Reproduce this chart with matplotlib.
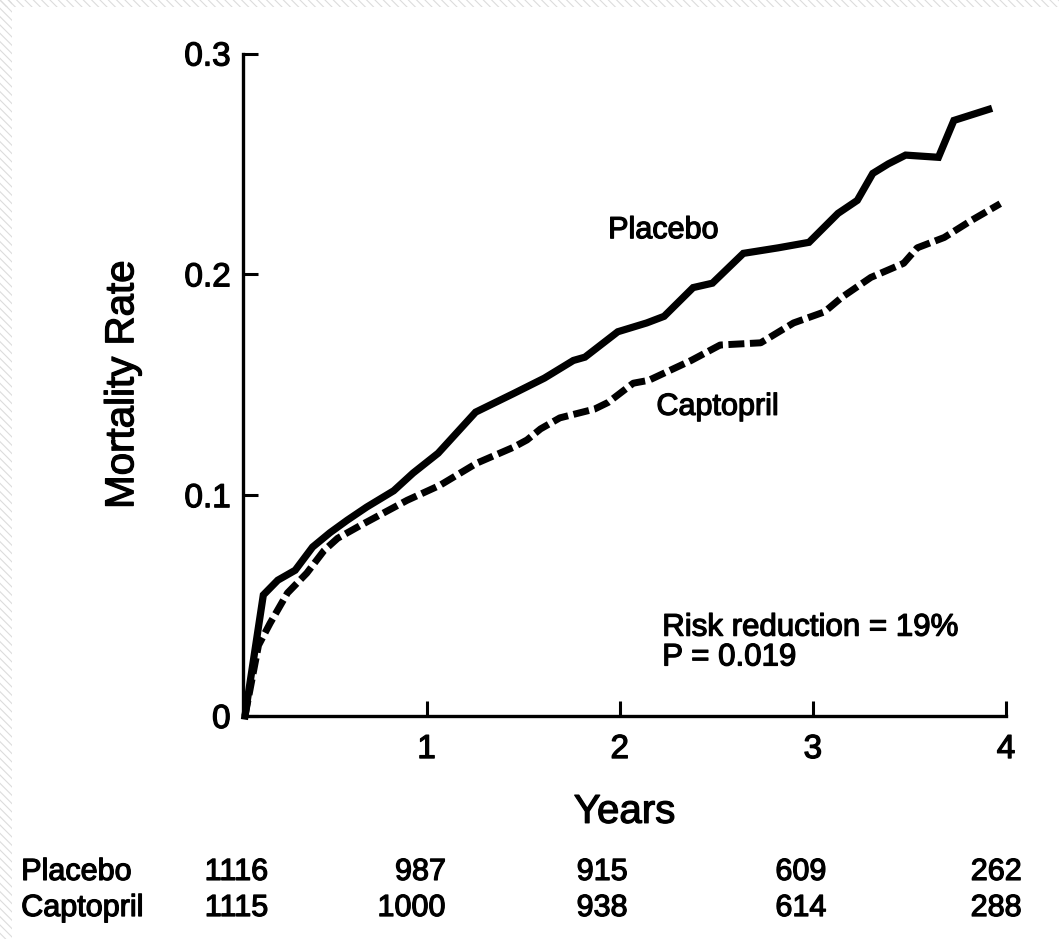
import matplotlib
matplotlib.use("Agg")
import matplotlib.pyplot as plt
import matplotlib.patheffects as pe
from matplotlib.patches import Rectangle
from matplotlib.text import Text
from matplotlib.transforms import blended_transform_factory

plt.rcParams['font.family'] = ['Liberation Sans', 'DejaVu Sans']
plt.rcParams['hatch.linewidth'] = 0.8

# cumulative mortality (years, rate)
placebo_t = [0.06, 0.155, 0.23, 0.32, 0.41, 0.50, 0.59, 0.69, 0.83, 0.93, 1.06,
             1.254, 1.45, 1.61, 1.76, 1.82, 1.99, 2.14, 2.23, 2.38, 2.48, 2.64,
             2.82, 2.98, 3.13, 3.23, 3.31, 3.39, 3.48, 3.65, 3.73, 3.91]
placebo_y = [0.0, 0.0548, 0.0615, 0.066, 0.0765, 0.083, 0.0887, 0.0946, 0.102,
             0.110, 0.119, 0.1376, 0.146, 0.153, 0.161, 0.1625, 0.174, 0.178,
             0.181, 0.194, 0.196, 0.2095, 0.212, 0.2145, 0.2276, 0.2335, 0.2457,
             0.250, 0.254, 0.253, 0.2697, 0.2747]

captopril_t = [0.06, 0.13, 0.19, 0.28, 0.38, 0.47, 0.54, 0.66, 0.80, 0.90, 1.07,
               1.26, 1.45, 1.52, 1.59, 1.69, 1.87, 1.94, 2.07, 2.15, 2.37, 2.52,
               2.73, 2.90, 3.06, 3.15, 3.30, 3.47, 3.54, 3.68, 3.82, 3.97]
captopril_y = [0.0, 0.032, 0.042, 0.0557, 0.0647, 0.075, 0.0805, 0.0864, 0.093,
               0.0977, 0.1045, 0.1145, 0.1217, 0.125, 0.130, 0.135, 0.139, 0.142,
               0.1507, 0.152, 0.161, 0.168, 0.169, 0.178, 0.183, 0.1896, 0.1986,
               0.205, 0.212, 0.2167, 0.2244, 0.232]

# patients at risk under the x axis
risk_years = [0, 1, 2, 3, 4]
placebo_n = [1116, 987, 915, 609, 262]
captopril_n = [1115, 1000, 938, 614, 288]

fig = plt.figure(figsize=(10.59, 9.39), dpi=100)
ax = fig.add_axes([0.2295, 0.2375, 0.7205, 0.7055])

ax.plot(placebo_t, placebo_y, color='black', lw=5.2, solid_joinstyle='miter',
        clip_on=False)
ax.plot(captopril_t, captopril_y, color='black', lw=5,
        linestyle=(0, (2.3, 0.8)), dash_capstyle='butt', clip_on=False)

ax.set_xlim(0.05, 4.0)
ax.set_ylim(0, 0.3)
ax.set_xticks([1, 2, 3, 4])
ax.set_yticks([0, 0.1, 0.2, 0.3])
ax.set_yticklabels(['0', '0.1', '0.2', '0.3'])

for side in ('top', 'right'):
    ax.spines[side].set_visible(False)
for side in ('left', 'bottom'):
    ax.spines[side].set_linewidth(2.4)
ax.tick_params(direction='in', length=11, width=2.2, labelsize=24)
ax.tick_params(axis='y', pad=9)
ax.tick_params(axis='x', pad=13)

ax.set_ylabel('Mortality Rate', fontsize=29, labelpad=31)
ax.set_xlabel('Years', fontsize=29, labelpad=20)

ax.text(1.94, 0.22, 'Placebo', fontsize=22, va='center')
ax.text(2.19, 0.14, 'Captopril', fontsize=22, va='center')
ax.text(2.22, 0.040, 'Risk reduction = 19%', fontsize=22.5, va='center')
ax.text(2.22, 0.0265, 'P = 0.019', fontsize=22.5, va='center')

# numbers at risk table
trans = blended_transform_factory(ax.transData, fig.transFigure)
num_right = [0.18, 1.10, 2.04, 3.07, 4.08]
rows = [('Placebo', placebo_n, 0.0714), ('Captopril', captopril_n, 0.033)]
for label, counts, yrow in rows:
    fig.text(0.02, yrow, label, fontsize=22, va='center', ha='left')
    for yr, xr, n in zip(risk_years, num_right, counts):
        ax.text(xr, yrow, str(n), transform=trans, fontsize=22,
                va='center', ha='right', clip_on=False)

# slightly heavier type, like a printed figure
for t in fig.findobj(Text):
    t.set_path_effects([pe.withStroke(linewidth=0.9, foreground='black')])

# faint hatched page margin on the left and top edges
fig.add_artist(Rectangle((0, 0), 12 / 1059, 1, transform=fig.transFigure,
                         fill=False, hatch='\\\\\\\\', edgecolor='#dcdcdc', lw=0))
fig.add_artist(Rectangle((0, 1 - 7 / 939), 1, 7 / 939, transform=fig.transFigure,
                         fill=False, hatch='\\\\\\\\', edgecolor='#dcdcdc', lw=0))

fig.savefig('out.png', dpi=100)
